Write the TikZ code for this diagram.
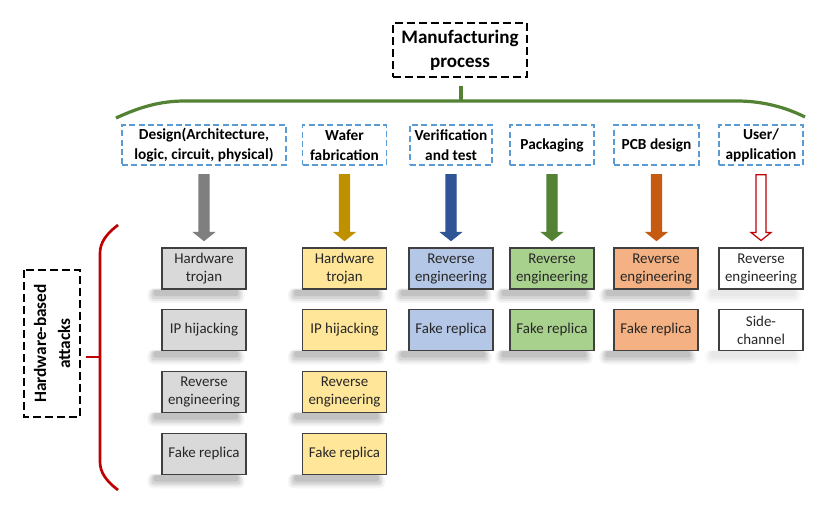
\documentclass[tikz,border=0pt]{standalone}
\usepackage{fontspec}
\setmainfont{Carlito}
\usetikzlibrary{calc,backgrounds}
\definecolor{hblue}{HTML}{5B9BD5}
\definecolor{bord}{HTML}{404040}
\definecolor{txt}{HTML}{262626}
\definecolor{braceG}{HTML}{548235}
\definecolor{bracR}{HTML}{C00000}
\definecolor{arGray}{HTML}{7F7F7F}
\definecolor{fiGray}{HTML}{D9D9D9}
\definecolor{arGold}{HTML}{BF9000}
\definecolor{fiGold}{HTML}{FFE699}
\definecolor{arBlue}{HTML}{2F5597}
\definecolor{fiBlue}{HTML}{B4C7E7}
\definecolor{arGreen}{HTML}{548235}
\definecolor{fiGreen}{HTML}{A9D18E}
\definecolor{arOrange}{HTML}{C55A11}
\definecolor{fiOrange}{HTML}{F4B183}
\newcommand\vdarrow[4]{%
  \path[fill=#3, draw=#4, line width=0.9pt, line join=miter] let \p1=(#1.south), \p2=(#2.north) in
  (\x1-3.75pt,\y1-6.75pt) -- (\x1+3.75pt,\y1-6.75pt) -- (\x1+3.75pt,\y2+11.25pt) --
  (\x1+7.5pt,\y2+11.25pt) -- (\x1,\y2+5.25pt) -- (\x1-7.5pt,\y2+11.25pt) --
  (\x1-3.75pt,\y2+11.25pt) -- cycle;}
\newcommand\shad[2]{%
  \fill[black,opacity=0.04*#2,rounded corners=4pt] let \p1=(#1.south west), \p2=(#1.south east) in
    (\x1-10.5pt,\y1+1pt) rectangle (\x2-1.5pt,\y1-10pt);
  \fill[black,opacity=0.06*#2,rounded corners=3pt] let \p1=(#1.south west), \p2=(#1.south east) in
    (\x1-9pt,\y1+0.5pt) rectangle (\x2-3pt,\y1-8.5pt);
  \fill[black,opacity=0.08*#2,rounded corners=2pt] let \p1=(#1.south west), \p2=(#1.south east) in
    (\x1-7.5pt,\y1) rectangle (\x2-4.5pt,\y1-7pt);
  \fill[black,opacity=0.09*#2,rounded corners=2pt] let \p1=(#1.south west), \p2=(#1.south east) in
    (\x1-6pt,\y1) rectangle (\x2-6pt,\y1-5pt);}
\begin{document}
\begin{tikzpicture}[x=0.75pt,y=-0.75pt,
  titlebox/.style={draw=black, line width=1.1pt, dash pattern=on 6pt off 3pt,
    minimum width=100.5pt, minimum height=40.5pt, align=center, inner sep=0pt,
    font=\fontsize{14.3}{18}\selectfont\bfseries},
  hdr/.style={draw=hblue, line width=1.1pt, dash pattern=on 4.5pt off 2.5pt,
    minimum height=30pt, align=center, inner sep=0pt,
    font=\fontsize{11.5}{15}\selectfont\bfseries},
  atk/.style={draw=bord, line width=0.8pt, minimum width=63pt, minimum height=30.75pt,
    align=center, inner sep=0pt, text=txt, font=\fontsize{11.2}{13.5}\selectfont},
  sidebox/.style={draw=black, line width=1.1pt, dash pattern=on 6pt off 3pt,
    minimum width=110.25pt, minimum height=42pt, align=center, inner sep=0pt,
    rotate=90, font=\fontsize{13}{18}\selectfont\bfseries}]
\useasboundingbox (0,0) rectangle (830,517);

% title
\node[titlebox] (t) at (460,50) {Manufacturing\\process};

% green brace
\coordinate (bl) at (116,118);
\coordinate (br) at (805,117);
\coordinate (btop) at (461,86);
\coordinate (bmid) at (461,101);
\draw[braceG, line width=2.4pt] (bl) .. controls (140,107) and (160,101) .. (185,101)
  -- (737,101) .. controls (762,101) and (785,107) .. (br);
\draw[braceG, line width=2.4pt] (btop) -- (bmid);

% headers
\node[hdr, minimum width=123pt] (h1) at (204,145) {Design(Architecture,\\logic, circuit, physical)};
\node[hdr, minimum width=63pt] (h2) at (344.5,145) {Wafer\\fabrication};
\node[hdr, minimum width=61.5pt] (h3) at (451,145) {Verification\\and test};
\node[hdr, minimum width=63pt] (h4) at (552,145) {Packaging};
\node[hdr, minimum width=63.75pt] (h5) at (656.5,145) {PCB design};
\node[hdr, minimum width=63pt] (h6) at (761,145) {User/\\application};

% attack boxes
\node[atk, fill=fiGray] (a1) at (204,268.5) {Hardware\\trojan};
\node[atk, fill=fiGray] (a2) at (204,330) {IP hijacking};
\node[atk, fill=fiGray] (a3) at (204,392) {Reverse\\engineering};
\node[atk, fill=fiGray] (a4) at (204,454) {Fake replica};

\node[atk, fill=fiGold] (b1) at (344.5,268.5) {Hardware\\trojan};
\node[atk, fill=fiGold] (b2) at (344.5,330) {IP hijacking};
\node[atk, fill=fiGold] (b3) at (344.5,392) {Reverse\\engineering};
\node[atk, fill=fiGold] (b4) at (344.5,454) {Fake replica};

\node[atk, fill=fiBlue] (c1) at (451,268.5) {Reverse\\engineering};
\node[atk, fill=fiBlue] (c2) at (451,330) {Fake replica};

\node[atk, fill=fiGreen] (d1) at (552,268.5) {Reverse\\engineering};
\node[atk, fill=fiGreen] (d2) at (552,330) {Fake replica};

\node[atk, fill=fiOrange] (e1) at (656,268.5) {Reverse\\engineering};
\node[atk, fill=fiOrange] (e2) at (656,330) {Fake replica};

\node[atk, fill=white] (f1) at (761,268.5) {Reverse\\engineering};
\node[atk, fill=white] (f2) at (761,330) {Side-\\channel};

% shadows
\begin{scope}[on background layer]
  \foreach \bx in {a1,a2,a3,a4,b1,b2,b3,b4,c1,c2,d1,d2,e1,e2} {\shad{\bx}{1}}
  \foreach \bx in {f1,f2} {\shad{\bx}{0.35}}
\end{scope}

% arrows
\vdarrow{h1}{a1}{arGray}{arGray}
\vdarrow{h2}{b1}{arGold}{arGold}
\vdarrow{h3}{c1}{arBlue}{arBlue}
\vdarrow{h4}{d1}{arGreen}{arGreen}
\vdarrow{h5}{e1}{arOrange}{arOrange}
\vdarrow{h6}{f1}{white}{bracR}

% red bracket
\coordinate (rt) at (118,225);
\coordinate (rb) at (118,490);
\coordinate (rm) at (100,357);
\draw[bracR, line width=2pt] (rt) .. controls (106,234) and (100,243) .. (100,253)
  -- (100,462) .. controls (100,472) and (106,481) .. (rb);
\node[sidebox] (s) at (52,343.5) {Hardware-based\\attacks};
\draw[bracR, line width=2pt] (86,357) -- (rm);
\end{tikzpicture}
\end{document}
